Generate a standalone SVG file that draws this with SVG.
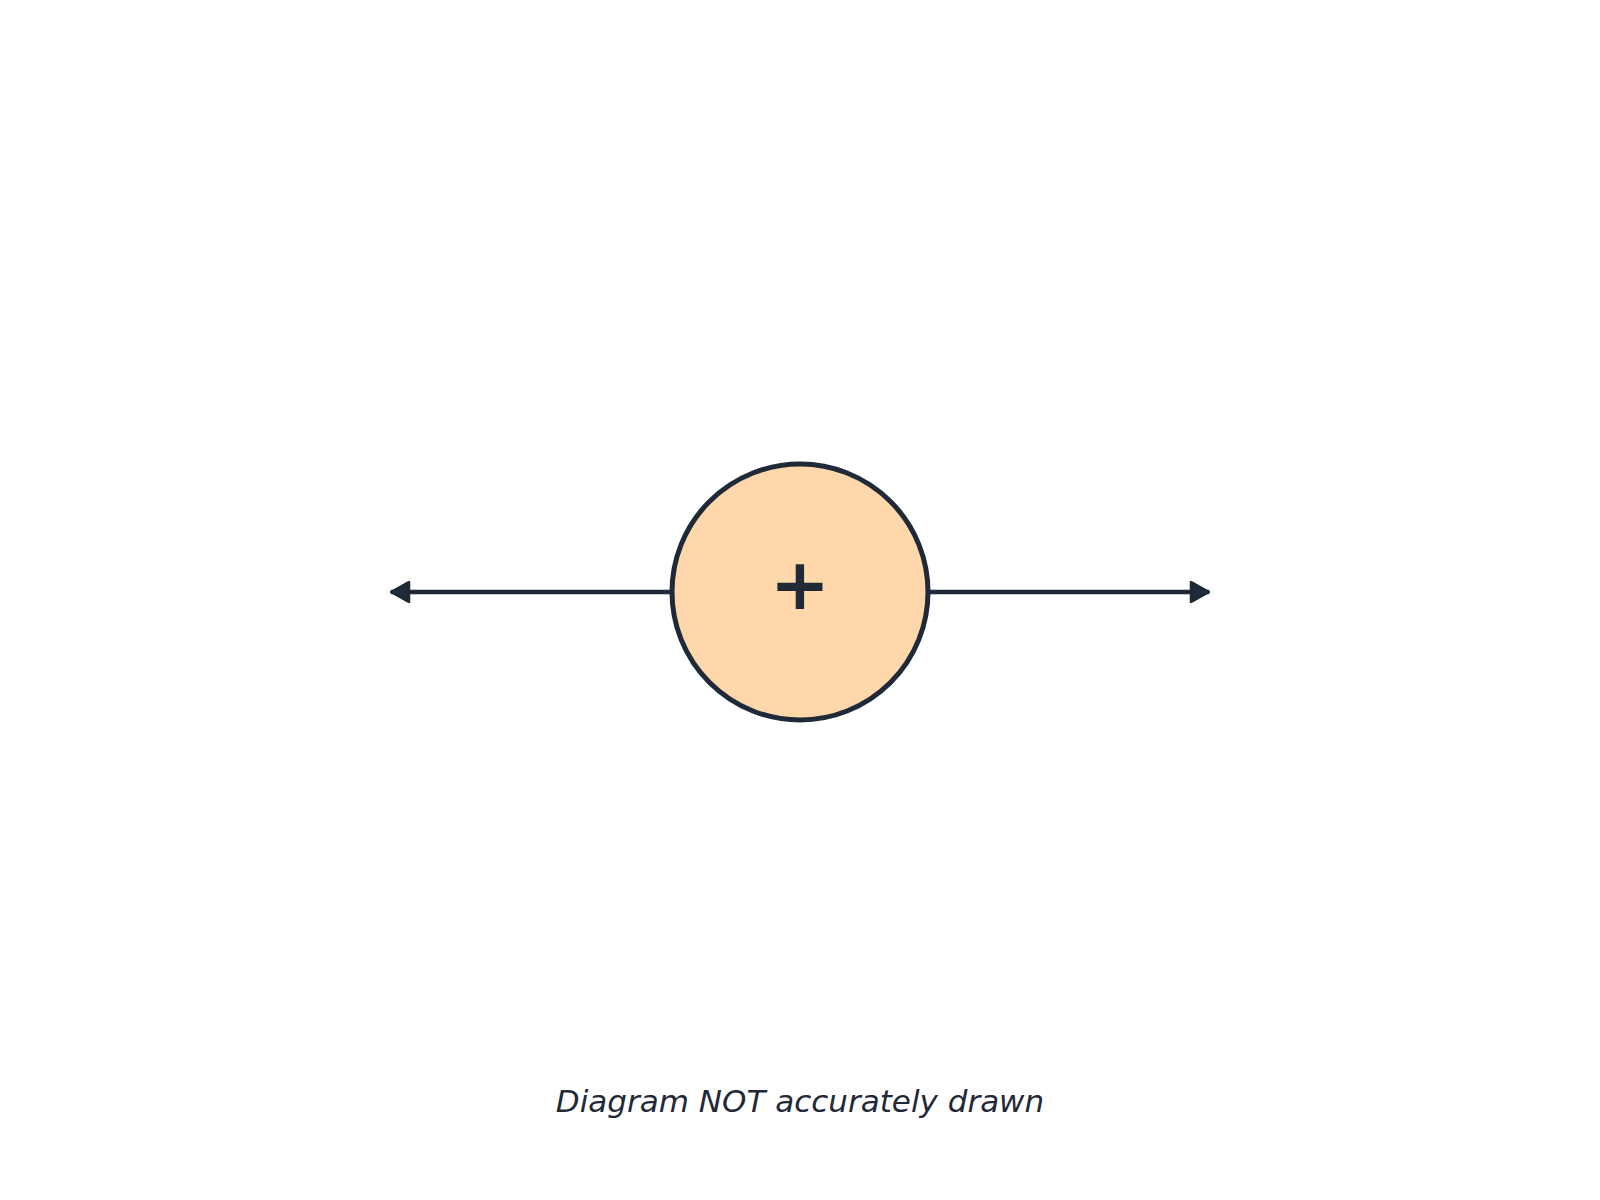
<svg xmlns="http://www.w3.org/2000/svg" width="1600" height="1200" viewBox="0 0 1600 1200">
<style>
.conn{stroke:#1f2937;stroke-width:4.5;fill:none}
.node{fill:#fed7aa;stroke:#1f2937;stroke-width:5}
.sym{font-family:"DejaVu Sans",sans-serif;font-weight:bold;font-size:72px;fill:#1f2937;text-anchor:middle}
.note{font-family:"DejaVu Sans",sans-serif;font-style:italic;font-size:31px;fill:#1f2937;text-anchor:middle}
</style>
<defs>
<marker id="ah" viewBox="0 0 22 22" refX="20" refY="11" markerWidth="22" markerHeight="22" markerUnits="userSpaceOnUse" orient="auto-start-reverse">
<path d="M2,1 L20,11 L2,21 Z" fill="#1f2937" stroke="#1f2937" stroke-width="2.5" stroke-linejoin="round"/>
</marker>
</defs>
<rect width="1600" height="1200" fill="#ffffff"/>
<g id="connectors">
<line class="conn" x1="672" y1="592" x2="391" y2="592" marker-end="url(#ah)"/>
<line class="conn" x1="928" y1="592" x2="1209" y2="592" marker-end="url(#ah)"/>
</g>
<g id="node-sum">
<circle class="node" cx="800" cy="592" r="128"/>
<text class="sym" x="800" y="609">+</text>
</g>
<text class="note" x="800" y="1112">Diagram NOT accurately drawn</text>
</svg>
